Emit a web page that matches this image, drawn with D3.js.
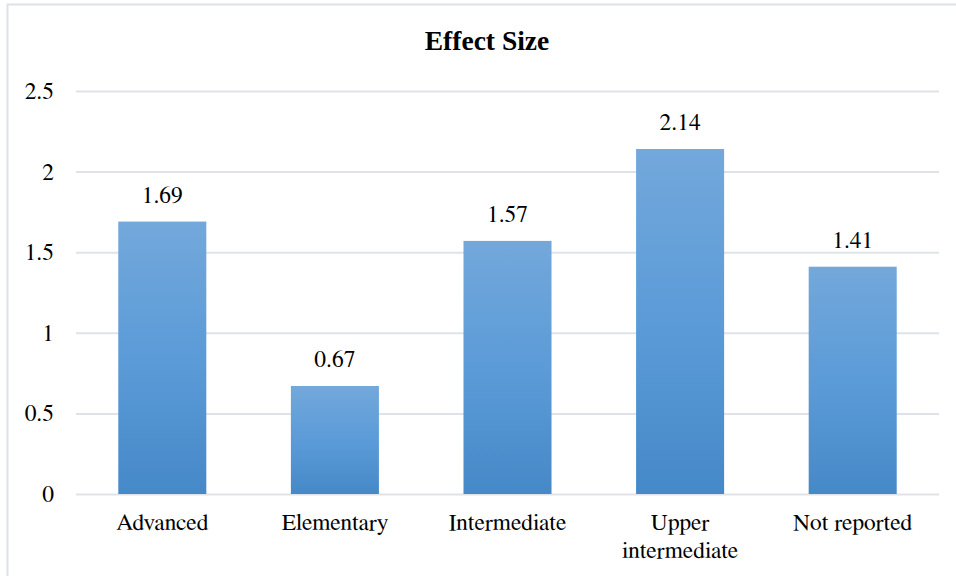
<!DOCTYPE html>
<html>
<head>
<meta charset="utf-8">
<script src="https://cdn.jsdelivr.net/npm/d3@7/dist/d3.min.js"></script>
<style>
  html, body { margin: 0; padding: 0; background: #fff; }
  svg { display: block; }
</style>
</head>
<body>
<svg id="chart" width="956" height="576"></svg>
<script>
// Effect size by proficiency level
const categories = ["Advanced", "Elementary", "Intermediate", "Upper intermediate", "Not reported"];
const effectSizes = [1.69, 0.67, 1.57, 2.14, 1.41];
const yTicks = [0, 0.5, 1, 1.5, 2, 2.5];
const title = "Effect Size";

const W = 956, H = 576;
const margin = { top: 91, right: 17, bottom: 82, left: 76 };
const svg = d3.select("#chart");

// Text is set at 30px and scaled down to the wanted size
const BASE = 30;
function label(parent, px, py, size, anchor, str, bold) {
  const g = parent.append("g")
    .attr("transform", `translate(${px},${py}) scale(${size / BASE})`);
  return g.append("text")
    .attr("x", 0).attr("y", 0)
    .attr("text-anchor", anchor)
    .attr("font-size", BASE)
    .style("font-family", bold ? "'Liberation Serif'" : "'FreeSerif'")
    .style("font-weight", bold ? "bold" : "normal")
    .text(str);
}

// chart frame
svg.append("rect")
  .attr("x", 7.5).attr("y", 4.5)
  .attr("width", W + 20).attr("height", H + 20)
  .attr("fill", "none").attr("stroke", "#dde2e8").attr("stroke-width", 2);

const x = d3.scaleBand()
  .domain(categories)
  .range([margin.left, W - margin.right])
  .paddingInner(0.49).paddingOuter(0.245);

const y = d3.scaleLinear()
  .domain([0, 2.5])
  .range([H - margin.bottom, margin.top]);

// bar gradient
const defs = svg.append("defs");
const grad = defs.append("linearGradient")
  .attr("id", "barFill").attr("x1", 0).attr("y1", 0).attr("x2", 0).attr("y2", 1);
grad.append("stop").attr("offset", "0%").attr("stop-color", "#73a8db");
grad.append("stop").attr("offset", "50%").attr("stop-color", "#5b9bd8");
grad.append("stop").attr("offset", "100%").attr("stop-color", "#4689c8");

// gridlines
const yAxis = d3.axisLeft(y).tickValues(yTicks)
  .tickSize(-(W - margin.left - margin.right))
  .tickFormat("");
const gy = svg.append("g")
  .attr("transform", `translate(${margin.left},0)`)
  .call(yAxis);
gy.select(".domain").remove();
gy.selectAll(".tick line").attr("stroke", "#dfe3e8").attr("stroke-width", 2);
gy.selectAll(".tick text").remove();

// y tick labels
const yLabels = svg.append("g");
yTicks.forEach(v => label(yLabels, margin.left - 22, y(v) + 8, 23.5, "end", d3.format("")(v)));

// bars
svg.append("g").selectAll("rect")
  .data(effectSizes)
  .join("rect")
  .attr("x", (d, i) => x(categories[i]))
  .attr("y", d => y(d))
  .attr("width", x.bandwidth())
  .attr("height", d => y(0) - y(d))
  .attr("fill", "url(#barFill)");

// value labels
const vLabels = svg.append("g");
effectSizes.forEach((v, i) =>
  label(vLabels, x(categories[i]) + x.bandwidth() / 2, y(v) - 19, 23.5, "middle", d3.format(".2f")(v)));

// category labels
const cLabels = svg.append("g");
categories.forEach(c => {
  const lines = c === "Upper intermediate" ? ["Upper", "intermediate"] : [c];
  lines.forEach((w, k) =>
    label(cLabels, x(c) + x.bandwidth() / 2, H - margin.bottom + 36 + k * 28, 23.5, "middle", w));
});

// title
label(svg, 487, 50, 27.5, "middle", title, true);
</script>
</body>
</html>
